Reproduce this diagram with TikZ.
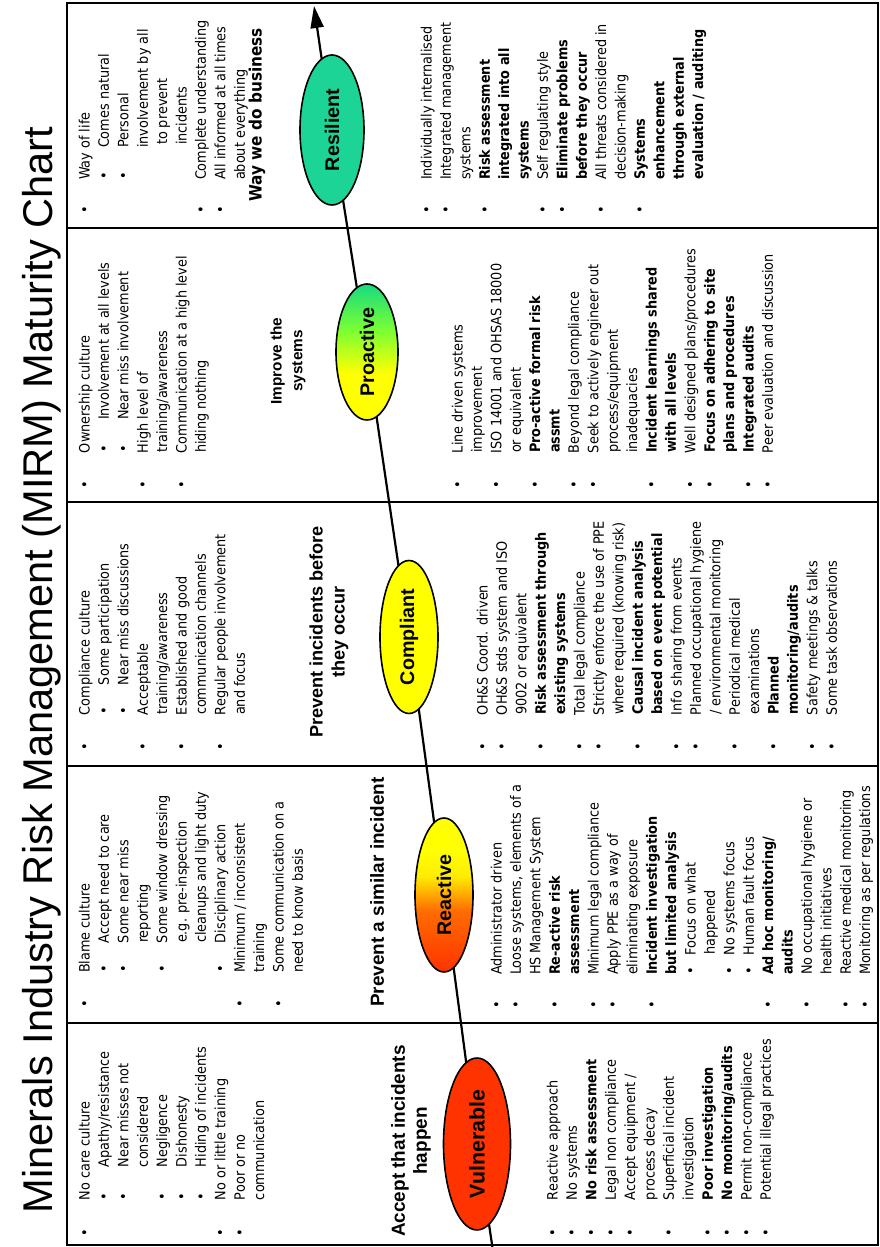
\documentclass[tikz,border=0pt]{standalone}
\usepackage{fontspec}
\usetikzlibrary{shapes.geometric,arrows.meta}
\setmainfont{DejaVu Sans}[FakeStretch=0.9]
\newfontfamily\arialf{Liberation Sans}
\newdimen\px \px=0.75pt
\newcommand\bl{\textbullet}
% list rows: level-1 item / continuation, level-2 item / continuation
\newcommand\one[1]{\bl & \multicolumn{2}{@{}l@{}}{#1}\\}
\newcommand\onec[1]{& \multicolumn{2}{@{}l@{}}{#1}\\}
\newcommand\two[1]{& \bl & #1\\}
\newcommand\twoc[1]{& & #1\\}
\newenvironment{blist}[2]{\fontsize{10.7}{14.55}\selectfont\begin{tabular}{@{}p{#1\px}@{}p{#2\px}@{}l@{}}}{\end{tabular}}
\definecolor{vred}{RGB}{255,51,0}
\definecolor{vyel}{RGB}{255,255,0}
\definecolor{vgrn}{RGB}{28,212,150}
\pgfdeclarehorizontalshading{reashade}{100bp}{color(0bp)=(vred); color(25bp)=(vred); color(45bp)=(orange!85!red); color(56bp)=(yellow!85!orange); color(64bp)=(vyel); color(100bp)=(vyel)}
\pgfdeclarehorizontalshading{proshade}{100bp}{color(0bp)=(vyel); color(25bp)=(vyel); color(42bp)=(vyel); color(58bp)=(yellow!60!green!80!cyan); color(75bp)=(vgrn!85!green); color(100bp)=(vgrn!85!green)}
\tikzset{
  frame/.style={line width=2.4\px, line cap=rect},
  listnode/.style={anchor=north west, inner sep=0pt, outer sep=0pt},
  stage/.style={ellipse, draw, line width=1.6\px, inner sep=0pt,
    font=\arialf\bfseries\fontsize{14.8}{16}\selectfont},
  midlab/.style={align=center, inner sep=0pt,
    font=\arialf\bfseries\fontsize{14.2}{16.5}\selectfont},
}
\begin{document}
\begin{tikzpicture}[x=0.75pt, y=0.75pt]
\useasboundingbox (0,0) rectangle (879,1247);
\begin{scope}[rotate=90, y=-0.75pt, transform shape]
  % title
  \node[anchor=base, inner sep=0pt, font=\arialf\fontsize{31.2}{36}\selectfont] (title) at (577,52)
    {Minerals Industry Risk Management (MIRM) Maturity Chart};
  % table frame and stage separators
  \draw[frame] (2,67) rectangle (1244,878);
  \foreach \c in {224,481,745,1019} \draw[frame] (\c,67) -- (\c,878);

  % maturity arrow through the stages
  \coordinate (a0) at (-4,493);
  \coordinate (vulc) at (103,477);
  \coordinate (reac) at (352,444);
  \coordinate (comc) at (610,409);
  \coordinate (proc) at (895,367);
  \coordinate (resc) at (1117,332);
  \coordinate (a1) at (1241,314);
  \draw[line width=2.2\px, -{Triangle[length=16.5pt,width=9.75pt]}]
    (a0) -- (vulc) -- (reac) -- (comc) -- (proc) -- (resc) -- (a1);

  \node[stage, fill=vred, minimum width=172\px, minimum height=67\px,
    font=\arialf\bfseries\fontsize{16}{18}\selectfont] (vul) at (vulc) {Vulnerable};
  \node[stage, shading=reashade, shading angle=90, draw, minimum width=154\px, minimum height=58\px] (rea) at (reac) {Reactive};
  \node[stage, fill=vyel, minimum width=153\px, minimum height=58\px] (com) at (comc) {Compliant};
  \node[stage, shading=proshade, shading angle=90, draw, minimum width=136\px, minimum height=62\px] (pro) at (proc) {Proactive};
  \node[stage, fill=vgrn, minimum width=150\px, minimum height=64\px] (res) at (resc) {Resilient};

  % stage headlines
  \node[midlab] (lab1) at (106,411) {Accept that incidents\\happen};
  \node[midlab] (lab2) at (355,377) {Prevent a similar incident};
  \node[midlab, font=\arialf\bfseries\fontsize{13.6}{16.5}\selectfont] (lab3) at (615,329) {Prevent incidents before\\they occur};
  \node[midlab, font=\arialf\bfseries\fontsize{11.5}{15.5}\selectfont] (lab4) at (886,288) {Improve the\\systems};
  \node[midlab, font=\bfseries\fontsize{12.75}{15}\selectfont] (lab5) at (1132,257) {Way we do business};

  % Vulnerable
  \node[listnode] (c1cult) at (11,76) {\begin{blist}{36}{33}
    \one{No care culture}
    \two{Apathy/resistance}
    \two{Near misses not}
    \twoc{considered}
    \two{Negligence}
    \two{Dishonesty}
    \two{Hiding of incidents}
    \one{No or little training}
    \one{Poor or no}
    \onec{communication}
  \end{blist}};
  \node[listnode] (c1sys) at (11,544) {\begin{blist}{36}{33}
    \one{Reactive approach}
    \one{No systems}
    \one{\textbf{No risk assessment}}
    \one{Legal non compliance}
    \one{Accept equipment /}
    \onec{process decay}
    \one{Superficial incident}
    \onec{investigation}
    \one{\textbf{Poor investigation}}
    \one{\textbf{No monitoring/audits}}
    \one{Permit non-compliance}
    \one{Potential illegal practices}
  \end{blist}};

  % Reactive
  \node[listnode] (c2cult) at (239,76) {\begin{blist}{35}{30}
    \one{Blame culture}
    \two{Accept need to care}
    \two{Some near miss}
    \twoc{reporting}
    \two{Some window dressing}
    \twoc{e.g. pre-inspection}
    \twoc{cleanups and light duty}
    \two{Disciplinary action}
    \one{Minimum / inconsistent}
    \onec{training}
    \one{Some communication on a}
    \onec{need to know basis}
  \end{blist}};
  \node[listnode] (c2sys) at (238,488) {\begin{blist}{34}{20}
    \one{Administrator driven}
    \one{Loose systems, elements of a}
    \onec{HS Management System}
    \one{\textbf{Re-active risk}}
    \onec{\textbf{assessment}}
    \one{Minimum legal compliance}
    \one{Apply PPE as a way of}
    \onec{eliminating exposure}
    \one{\textbf{Incident investigation}}
    \onec{\textbf{but limited analysis}}
    \two{Focus on what}
    \twoc{happened}
    \two{No systems focus}
    \two{Human fault focus}
    \one{\textbf{Ad hoc monitoring/}}
    \onec{\textbf{audits}}
    \one{No occupational hygiene or}
    \onec{health initiatives}
    \one{Reactive medical monitoring}
    \one{Monitoring as per regulations}
  \end{blist}};

  % Compliant
  \node[listnode] (c3cult) at (496,76) {\begin{blist}{36}{30}
    \one{Compliance culture}
    \two{Some participation}
    \two{Near miss discussions}
    \one{Acceptable}
    \onec{training/awareness}
    \one{Established and good}
    \onec{communication channels}
    \one{Regular people involvement}
    \onec{and focus}
  \end{blist}};
  \node[listnode] (c3sys) at (496,474) {\begin{blist}{36}{30}
    \one{OH\&S Coord. driven}
    \one{OH\&S stds system and ISO}
    \onec{9002 or equivalent}
    \one{\textbf{Risk assessment through}}
    \onec{\textbf{existing systems}}
    \one{Total legal compliance}
    \one{Strictly enforce the use of PPE}
    \onec{where required (knowing risk)}
    \one{\textbf{Causal incident analysis}}
    \onec{\textbf{based on event potential}}
    \one{Info sharing from events}
    \one{Planned occupational hygiene}
    \onec{/ environmental monitoring}
    \one{Periodical medical}
    \onec{examinations}
    \one{\textbf{Planned}}
    \onec{\textbf{monitoring/audits}}
    \one{Safety meetings \& talks}
    \one{Some task observations}
  \end{blist}};

  % Proactive
  \node[listnode] (c4cult) at (758,76) {\begin{blist}{36}{33}
    \one{Ownership culture}
    \two{Involvement at all levels}
    \two{Near miss involvement}
    \one{High level of}
    \onec{training/awareness}
    \one{Communication at a high level}
    \onec{hiding nothing}
  \end{blist}};
  \node[listnode] (c4sys) at (758,449) {\begin{blist}{36}{33}
    \one{Line driven systems}
    \onec{improvement}
    \one{ISO 14001 and OHSAS 18000}
    \onec{or equivalent}
    \one{\textbf{Pro-active formal risk}}
    \onec{\textbf{assmt}}
    \one{Beyond legal compliance}
    \one{Seek to actively engineer out}
    \onec{process/equipment}
    \onec{inadequacies}
    \one{\textbf{Incident learnings shared}}
    \onec{\textbf{with all levels}}
    \one{Well designed plans/procedures}
    \one{\textbf{Focus on adhering to site}}
    \onec{\textbf{plans and procedures}}
    \one{\textbf{Integrated audits}}
    \one{Peer evaluation and discussion}
  \end{blist}};

  % Resilient
  \node[listnode] (c5cult) at (1033,76) {\begin{blist}{34}{32}
    \one{Way of life}
    \two{Comes natural}
    \two{Personal}
    \twoc{involvement by all}
    \twoc{\hspace{3\px}to prevent}
    \twoc{\hspace{3\px}incidents}
    \one{Complete understanding}
    \one{All informed at all times}
    \onec{about everything}
  \end{blist}};
  \node[listnode] (c5sys) at (1033,418) {\begin{blist}{34}{32}
    \one{Individually internalised}
    \one{Integrated management}
    \onec{systems}
    \one{\textbf{Risk assessment}}
    \onec{\textbf{integrated into all}}
    \onec{\textbf{systems}}
    \one{Self regulating style}
    \one{\textbf{Eliminate problems}}
    \onec{\textbf{before they occur}}
    \one{All threats considered in}
    \onec{decision-making}
    \one{\textbf{Systems}}
    \onec{\textbf{enhancement}}
    \onec{\textbf{through external}}
    \onec{\textbf{evaluation / auditing}}
  \end{blist}};
\end{scope}
\end{tikzpicture}
\end{document}
